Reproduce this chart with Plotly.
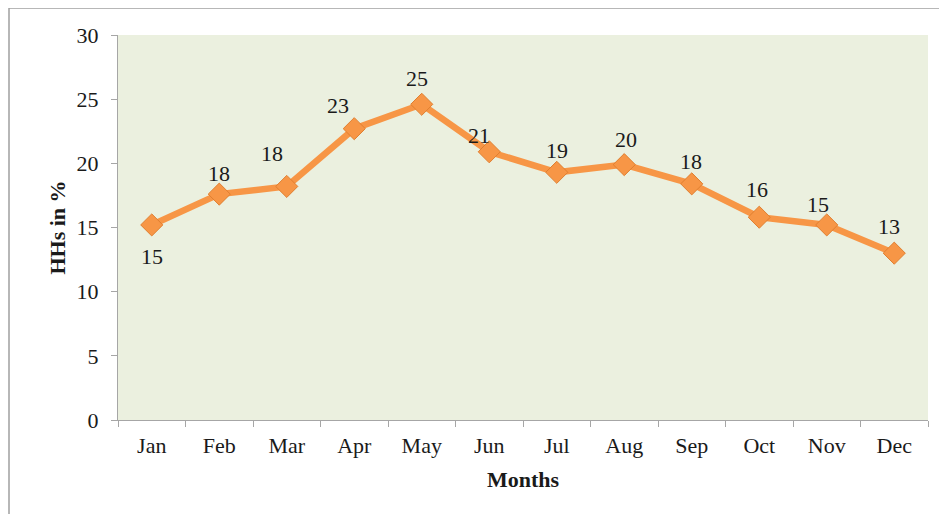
import plotly.graph_objects as go

months = ["Jan", "Feb", "Mar", "Apr", "May", "Jun", "Jul", "Aug", "Sep", "Oct", "Nov", "Dec"]
hhs_pct = [15.2, 17.6, 18.2, 22.7, 24.6, 20.9, 19.3, 19.9, 18.4, 15.8, 15.2, 13.0]
labels = ["15", "18", "18", "23", "25", "21", "19", "20", "18", "16", "15", "13"]
y_ticks = [0, 5, 10, 15, 20, 25, 30]

# label offsets (px) relative to each marker
label_dx = [0, 0, -15, -16, -5, -10, 0, 2, -1, -2, -9, -5]
label_dy = [32, -21, -33, -23, -26, -16, -22, -25, -22, -28, -20, -27]

ORANGE = "#F79646"
FONT = "Liberation Serif, Times New Roman, serif"
FS = 22

fig = go.Figure()
fig.add_trace(go.Scatter(
    x=months, y=hhs_pct, mode="lines+markers",
    line=dict(color=ORANGE, width=6.5),
    marker=dict(symbol="diamond", size=17, color=ORANGE,
                line=dict(color="#E07F30", width=1)),
    hoverinfo="x+y", showlegend=False,
))

for m, v, t, dx, dy in zip(months, hhs_pct, labels, label_dx, label_dy):
    fig.add_annotation(x=m, y=v, text=t, showarrow=False,
                       xshift=dx, yshift=-dy,
                       font=dict(family=FONT, size=FS, color="#1a1a1a"))

fig.update_layout(
    width=939, height=506,
    margin=dict(l=110, r=19, t=27, b=94),
    paper_bgcolor="white",
    plot_bgcolor="#EBF0DF",
    font=dict(family=FONT, size=FS, color="#1a1a1a"),
    xaxis=dict(
        type="category", showgrid=False, zeroline=False,
        showline=True, linecolor="#A6A6A6", linewidth=1,
        ticks="outside", ticklen=6, tickcolor="#A6A6A6", tickson="boundaries",
        tickfont=dict(family=FONT, size=FS), ticklabelstandoff=6,
        title=dict(text="<b>Months</b>", font=dict(family=FONT, size=FS), standoff=14),
        range=[-0.5, 11.5],
    ),
    yaxis=dict(
        range=[0, 30], tickvals=y_ticks, showgrid=False, zeroline=False,
        showline=True, linecolor="#A6A6A6", linewidth=1,
        ticks="outside", ticklen=6, tickcolor="#A6A6A6",
        tickfont=dict(family=FONT, size=FS), ticklabelstandoff=8,
        title=dict(text="<b>HHs in %</b>", font=dict(family=FONT, size=FS), standoff=4),
    ),
    shapes=[dict(type="rect", xref="paper", yref="paper",
                 x0=-109/810, x1=1.05, y0=-0.5, y1=1 + 27/385,
                 line=dict(color="#A0A0A0", width=1.5), layer="below")],
)

fig.write_html("out.html")
